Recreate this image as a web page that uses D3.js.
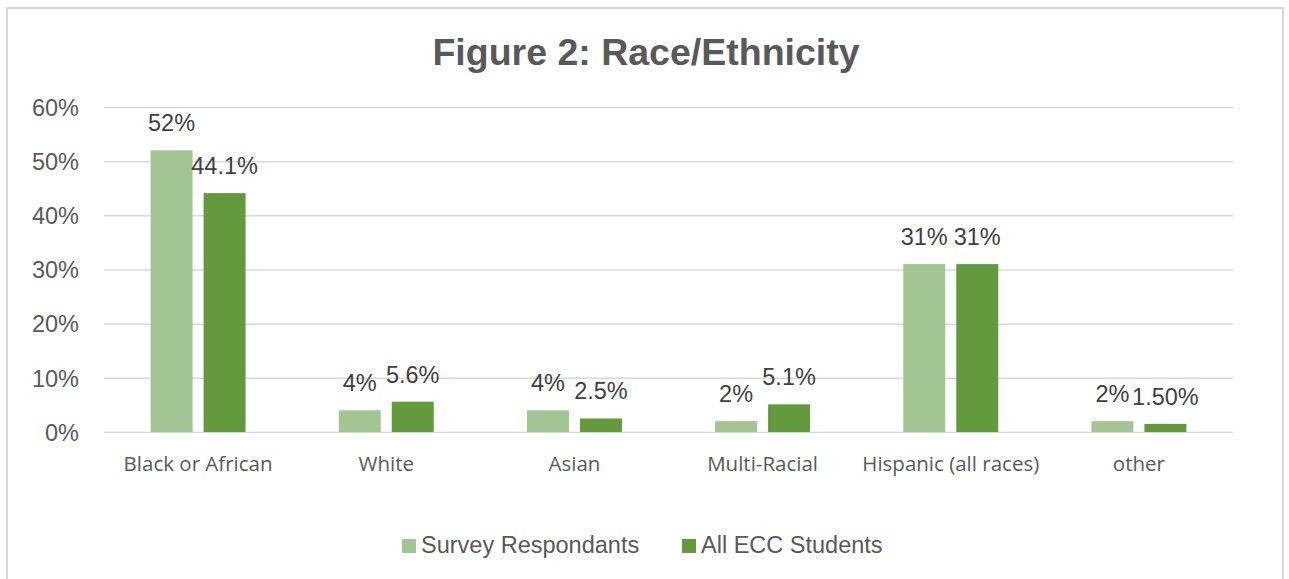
<!DOCTYPE html>
<html><head><meta charset="utf-8">
<script src="https://cdn.jsdelivr.net/npm/d3@7"></script>
<style>body{margin:0;background:#fff;}svg{display:block;}</style>
</head><body>
<svg id="c" width="1289" height="579"></svg>
<script>
const categories = ["Black or African","White","Asian","Multi-Racial","Hispanic (all races)","other"];
const seriesNames = ["Survey Respondants","All ECC Students"];
const survey = [52,4,4,2,31,2];
const allEcc = [44.1,5.6,2.5,5.1,31,1.5];
const surveyLabels = ["52%","4%","4%","2%","31%","2%"];
const eccLabels = ["44.1%","5.6%","2.5%","5.1%","31%","1.50%"];
const yTicks = [0,10,20,30,40,50,60];
const colors = ["#a3c593","#629a3d"];

const svg = d3.select("#c");
svg.append("rect").attr("x",7).attr("y",8).attr("width",1276).attr("height",580)
  .attr("fill","#fff").attr("stroke","#d9d9d9").attr("stroke-width",2);

const x0 = d3.scaleBand().domain(categories).range([104,1233]).paddingInner(0).paddingOuter(0);
const y = d3.scaleLinear().domain([0,60]).range([432,107]);

svg.append("text").attr("x",646).attr("y",65).attr("text-anchor","middle")
  .attr("font-family","Liberation Sans, Arial, sans-serif").attr("font-weight","bold")
  .attr("font-size",37.5).attr("fill","#595959").text("Figure 2: Race/Ethnicity");

const yAxis = d3.axisLeft(y).tickValues(yTicks).tickFormat(d=>d+"%").tickSize(-(1233-104)).tickPadding(25);
const gy = svg.append("g").attr("transform","translate(104,0)").call(yAxis);
gy.select(".domain").remove();
gy.selectAll(".tick line").attr("stroke","#d9d9d9").attr("stroke-width",1.5);
gy.selectAll(".tick text").attr("font-family","Liberation Sans, Arial, sans-serif").attr("font-size",23.5)
  .attr("fill","#595959").attr("dy","0.35em");

const xAxis = d3.axisBottom(x0).tickSize(0).tickPadding(24);
const gx = svg.append("g").attr("transform","translate(0,432)").call(xAxis);
gx.select(".domain").remove();
gx.selectAll(".tick text").attr("font-family","Open Sans, sans-serif").attr("font-size",20.5)
  .attr("fill","#595959");

const barW = 42, gap = 11;
const series = [survey, allEcc];
const labels = [surveyLabels, eccLabels];
series.forEach((vals,si)=>{
  const off = si===0 ? -(gap/2+barW) : gap/2;
  svg.append("g").selectAll("rect").data(vals).join("rect")
    .attr("x",(d,i)=>x0(categories[i])+x0.bandwidth()/2+off)
    .attr("y",d=>y(d)).attr("width",barW).attr("height",d=>y(0)-y(d))
    .attr("fill",colors[si]);
  svg.append("g").selectAll("text").data(vals).join("text")
    .attr("x",(d,i)=>x0(categories[i])+x0.bandwidth()/2+off+barW/2)
    .attr("y",d=>y(d)-19).attr("text-anchor","middle")
    .attr("font-family","Liberation Sans, Arial, sans-serif").attr("font-size",23.5)
    .attr("fill","#404040").text((d,i)=>labels[si][i]);
});

const legend = svg.append("g");
const lx = [402, 682];
seriesNames.forEach((n,i)=>{
  legend.append("rect").attr("x",lx[i]).attr("y",539).attr("width",14).attr("height",14).attr("fill",colors[i]);
  legend.append("text").attr("x",lx[i]+19).attr("y",553)
    .attr("font-family","Liberation Sans, Arial, sans-serif").attr("font-size",23.5)
    .attr("fill","#595959").text(n);
});
</script>
</body></html>
